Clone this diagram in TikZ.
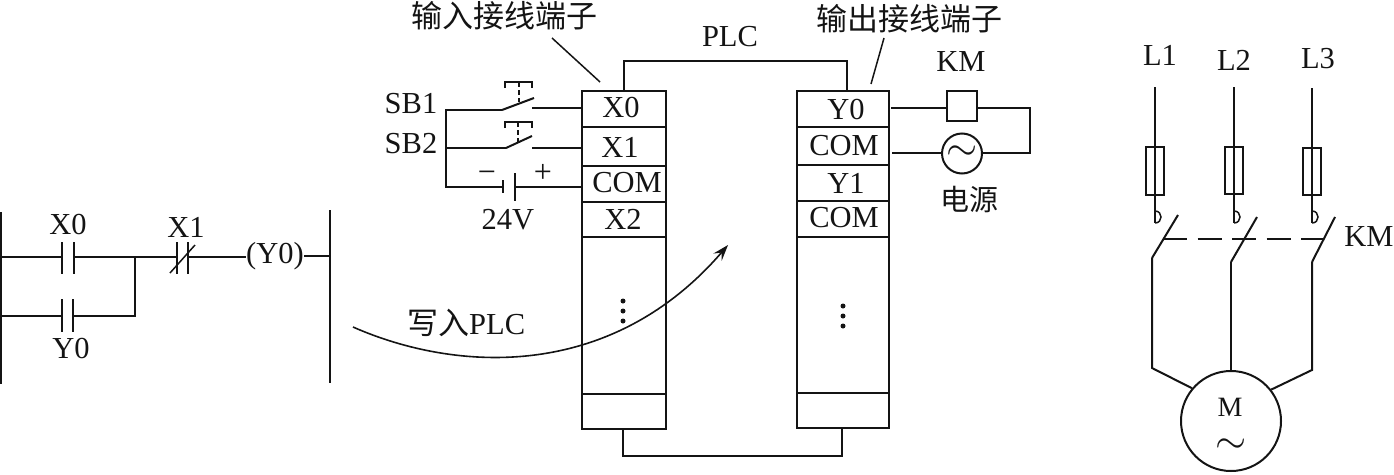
\documentclass[tikz,border=0pt]{standalone}
\usepackage{graphicx}
\usepackage{fontspec}
\setmainfont{Liberation Serif}
\newfontfamily\cjk{Noto Sans CJK SC}
\usetikzlibrary{arrows.meta}
\definecolor{ink}{gray}{0.08}
\newcommand{\bigtilde}{\scalebox{4}{$\sim$}}
\tikzset{
  x=1pt,y=-1pt,
  wire/.style={line width=2pt,ink},
  thin wire/.style={line width=1.5pt,ink},
  lbl/.style={inner sep=0pt,font=\fontsize{30.5}{30.5}\selectfont,text=ink},
  cn/.style={inner sep=0pt,font=\cjk\fontsize{31}{31}\selectfont,text=ink},
  sign/.style={inner sep=0pt,font=\fontsize{32}{32}\selectfont,text=ink},
  tilde/.style={inner sep=0pt,text=ink},
  round sym/.style={draw,line width=2pt,ink,circle,inner sep=0pt},
  dot/.style={circle,fill=ink,inner sep=0pt,minimum size=5pt},
}
\begin{document}
\begin{tikzpicture}
\useasboundingbox (0,0) rectangle (1394,474);
% ladder
\coordinate (railLt) at (1,212); \coordinate (railLb) at (1,384);
\coordinate (railRt) at (330,210); \coordinate (railRb) at (330,383);
\draw[wire] (railLt) -- (railLb);
\draw[wire] (railRt) -- (railRb);
\coordinate (r1) at (1,257); \coordinate (c1a) at (62,257); \coordinate (c1b) at (74,257);
\coordinate (j) at (135,257); \coordinate (c3a) at (177,257); \coordinate (c3b) at (188,257);
\coordinate (r2) at (1,316); \coordinate (c2a) at (62,316); \coordinate (c2b) at (73,316);
\coordinate (j2) at (135,316); \coordinate (r3) at (330,256);
\node[lbl] (x0l) at (68,225) {X0};
\node[lbl] (y0l) at (71,349) {Y0};
\node[lbl] (x1l) at (186,227) {X1};
\node[lbl] (coil) at (275,256) {(Y0)};
\draw[wire] (r1) -- (c1a) (c1b) -- (c3a) (c3b) -- (coil.west |- c3b);
\draw[wire] (r2) -- (c2a) (c2b) -- (j2) -- (j);
\draw[wire] (coil.east |- r3) -- (r3);
\draw[wire] (62,242) -- (62,274) (74,242) -- (74,274);
\draw[wire] (62,299) -- (62,332) (73,299) -- (73,332);
\draw[wire] (177,242) -- (177,274) (188,242) -- (188,274);
\draw[thin wire] (170,273) -- (195,245);
% write arrow
\coordinate (a0) at (353,327); \coordinate (a1) at (728,245);
\draw[line width=1.6pt,ink,-{Stealth[length=16pt,width=11pt,inset=6pt]}] (a0) .. controls (455,372) and (610,382) .. (a1);
\node[lbl,anchor=west] (w) at (407,323) {{\cjk\fontsize{31}{31}\selectfont 写入}PLC};
% PLC left
\draw[wire] (582,91) rectangle (666,429);
\foreach \y in {127,166,202,237,394} \draw[wire] (582,\y) -- (666,\y);
\node[lbl] (x0) at (621,108) {X0};
\node[lbl] (x1) at (620,147) {X1};
\node[lbl] (com) at (627,183) {COM};
\node[lbl] (x2) at (623,219) {X2};
% PLC right
\draw[wire] (797,91) rectangle (889,428);
\foreach \y in {127,165,201,237,393} \draw[wire] (797,\y) -- (889,\y);
\node[lbl] (y0) at (846,110) {Y0};
\node[lbl] (comb) at (844,146) {COM};
\node[lbl] (y1) at (846,183) {Y1};
\node[lbl] (comc) at (844,218) {COM};
\node[dot] (d1) at (623,301) {}; \node[dot] (d2) at (623,311) {}; \node[dot] (d3) at (623,321) {};
\node[dot] (d4) at (843,306) {}; \node[dot] (d5) at (843,316) {}; \node[dot] (d6) at (843,326) {};
% links
\draw[wire] (624,91) -- (624,61) -- (847,61) -- (847,91);
\draw[wire] (623,429) -- (623,456) -- (842,456) -- (842,428);
\node[lbl] (plc) at (730,37) {PLC};
% headings
\node[cn] (h1) at (504,16) {输入接线端子};
\node[cn] (h2) at (909,19) {输出接线端子};
\coordinate (p1) at (552,38); \coordinate (p2) at (600,82);
\coordinate (p3) at (884,38); \coordinate (p4) at (871,84);
\draw[thin wire] (p1) -- (p2) (p3) -- (p4);
% input wiring
\node[lbl] (sb1) at (411,104) {SB1};
\node[lbl] (sb2) at (411,144) {SB2};
\draw[wire] (582,108) -- (532,108);
\draw[wire] (582,148) -- (532,148);
\draw[wire] (502,110) -- (446,110) -- (446,187) -- (503,187);
\draw[wire] (446,148) -- (506,148);
\draw[wire] (502,110) -- (534,98);
\draw[wire] (506,148) -- (532,136);
\draw[wire] (515,187) -- (582,187);
\draw[wire] (503,180) -- (503,193);
\draw[wire] (515,173) -- (515,201);
\draw[thin wire,dash pattern=on 5pt off 3pt] (519,82) -- (519,102);
\draw[thin wire,dash pattern=on 5pt off 3pt] (518,122) -- (518,142);
\draw[wire] (505,88) -- (505,82) -- (532,82) -- (532,88);
\draw[wire] (505,128) -- (505,122) -- (532,122) -- (532,128);
\node[sign] (minus) at (487,177) {−};
\node[sign] (plus) at (543,173) {+};
\node[lbl] (v24) at (508,220) {24V};
% output wiring
\node[lbl] (km) at (961,62) {KM};
\node[draw,line width=2pt,ink,minimum size=30pt,inner sep=0pt] (coilb) at (962,106) {};
\node[round sym,minimum size=40pt] (ac) at (962,153.5) {};
\node[tilde] (acg) at (962,153.5) {\bigtilde};
\node[cn,font=\cjk\fontsize{29}{29}\selectfont] (ps) at (969,200) {电源};
\coordinate (turn1) at (1030,108); \coordinate (turn2) at (1030,153);
\draw[wire] (891,108) -- (coilb.west |- turn1);
\draw[wire] (coilb.east |- turn1) -- (turn1) -- (turn2) -- (ac.east |- turn2);
\draw[wire] (892,153) -- (ac.west |- turn2);
% power
\node[lbl] (l1) at (1160,55) {L1};
\node[lbl] (l2) at (1234,60) {L2};
\node[lbl] (l3) at (1318,59) {L3};
\foreach \n/\x/\xb/\t/\lo/\hi/\tipx/\tipy/\yb in {a/1155/1152/87/147/195/1178/215/258,b/1234/1231/87/147/194/1257/217/262,c/1312/1312/88/148/195/1335/217/262}{
  \draw[wire] (\x,\t) -- (\x,\hi);
  \draw[wire] (\x-9,\lo) rectangle (\x+9,\hi);
  \draw[thin wire] (\x,\hi) -- (\x,223);
  \draw[thin wire] (\x,211) .. controls (\x+8,211) and (\x+8,223) .. (\x,223);
  \draw[wire] (\xb,\yb) -- (\tipx,\tipy);
}
\node[lbl] (kmr) at (1369,237) {KM};
\draw[thin wire,dash pattern=on 24pt off 10.5pt] (1163,239) -- (1323,239);
% motor
\node[round sym,minimum size=100pt] (m) at (1231,421) {};
\node[inner sep=0pt,font=\fontsize{28}{28}\selectfont,text=ink] (mt) at (1230,407) {M};
\node[tilde] (mg) at (1231,446) {\bigtilde};
\coordinate (k1) at (1152,368); \coordinate (k3) at (1312,370);
\draw[wire] (1152,258) -- (k1) -- (m.140);
\draw[wire] (1231,262) -- (m.north);
\draw[wire] (1312,262) -- (k3) -- (m.38);
\end{tikzpicture}
\end{document}
